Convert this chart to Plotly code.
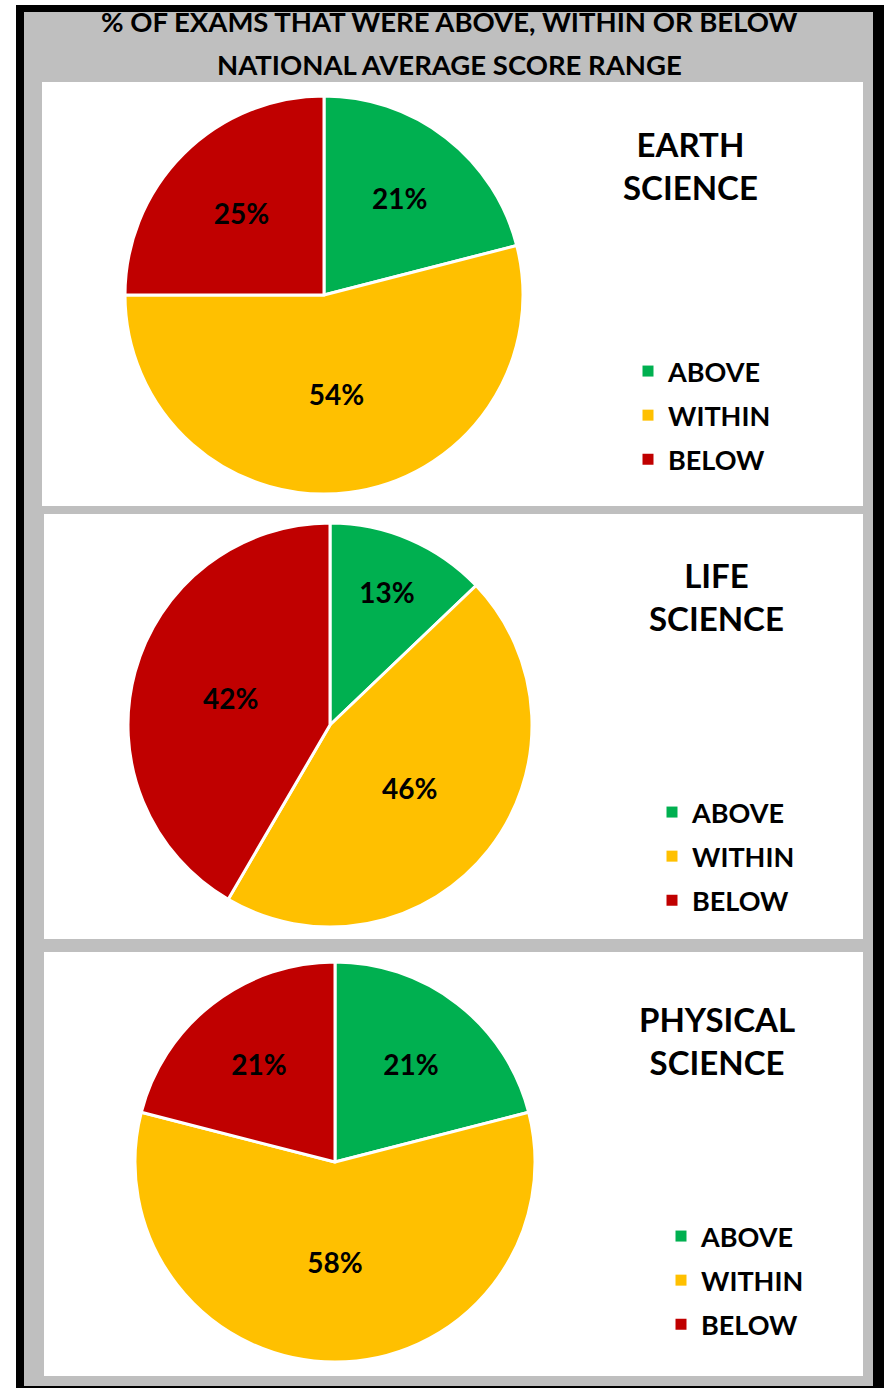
import plotly.graph_objects as go

W, H = 884, 1388

# ---- data ----
categories = ["ABOVE", "WITHIN", "BELOW"]
colors = ["#00B050", "#FFC000", "#C00000"]
subjects = ["EARTH<br>SCIENCE", "LIFE<br>SCIENCE", "PHYSICAL<br>SCIENCE"]
earth_values = [21, 54, 25]
life_values = [13, 46, 42]
physical_values = [21, 58, 21]
title_lines = ["% OF EXAMS THAT WERE ABOVE, WITHIN OR BELOW",
               "NATIONAL AVERAGE SCORE RANGE"]

FONT = "Lato"


def X(px):
    return px / W


def Y(py):
    return 1 - py / H


fig = go.Figure()

# layout of the three panels (pixel geometry)
panels = [
    dict(values=earth_values, box=(42, 863, 82, 506), pie=(324, 295, 199),
         title=(690, 166), legend=(628, 369)),
    dict(values=life_values, box=(44, 863, 514, 939), pie=(330, 725, 202),
         title=(716, 597), legend=(652, 810)),
    dict(values=physical_values, box=(44, 863, 952, 1376), pie=(335, 1162, 200),
         title=(717, 1040), legend=(661, 1234)),
]

shapes = [
    dict(type="rect", xref="paper", yref="paper", x0=X(16), x1=X(890), y0=Y(5), y1=Y(1395),
         fillcolor="black", line=dict(width=0), layer="below"),
    dict(type="rect", xref="paper", yref="paper", x0=X(24), x1=X(873), y0=Y(12), y1=Y(1386),
         fillcolor="#BFBFBF", line=dict(width=0), layer="below"),
]
annotations = []

for i, p in enumerate(panels):
    x0, x1, y0, y1 = p["box"]
    shapes.append(dict(type="rect", xref="paper", yref="paper", x0=X(x0), x1=X(x1),
                       y0=Y(y0), y1=Y(y1), fillcolor="white", line=dict(width=0),
                       layer="below"))
    cx, cy, r = p["pie"]
    fig.add_trace(go.Pie(
        labels=categories, values=p["values"],
        text=[f"{v}%" for v in p["values"]], textinfo="text",
        textposition="inside", insidetextorientation="horizontal",
        textfont=dict(family=FONT, size=28, color="black", weight="bold"),
        marker=dict(colors=colors, line=dict(color="white", width=3)),
        sort=False, direction="clockwise", rotation=0,
        domain=dict(x=[X(cx - r), X(cx + r)], y=[Y(cy + r), Y(cy - r)]),
        showlegend=False, hoverinfo="label+percent",
    ))
    legend_name = "legend" if i == 0 else f"legend{i + 1}"
    for cat, col in zip(categories, colors):
        fig.add_trace(go.Scatter(
            x=[None], y=[None], mode="markers", name=cat,
            marker=dict(symbol="square", size=11, color=col),
            legend=legend_name, legendgroup=f"{i}-{cat}", showlegend=True,
        ))
    lx, ly = p["legend"]
    fig.update_layout({legend_name: dict(
        x=X(lx), y=Y(ly - 22), xanchor="left", yanchor="top",
        bgcolor="rgba(0,0,0,0)", tracegroupgap=6,
        font=dict(family=FONT, size=27, color="black", weight="bold"),
        itemclick=False, itemdoubleclick=False,
    )})
    tx, ty = p["title"]
    annotations.append(dict(
        text=subjects[i], x=X(tx), y=Y(ty), xref="paper", yref="paper",
        xanchor="center", yanchor="middle", showarrow=False, align="center",
        font=dict(family=FONT, size=33, color="black", weight="bold"),
    ))

for line, ypx in zip(title_lines, [22, 64]):
    annotations.append(dict(
        text=line, x=X(449), y=Y(ypx), xref="paper", yref="paper",
        xanchor="center", yanchor="middle", showarrow=False,
        font=dict(family=FONT, size=27.5, color="black", weight="bold"),
    ))

fig.update_layout(
    width=W, height=H, margin=dict(l=0, r=0, t=0, b=0),
    paper_bgcolor="white", plot_bgcolor="rgba(0,0,0,0)",
    xaxis=dict(visible=False), yaxis=dict(visible=False),
    shapes=shapes, annotations=annotations,
)

fig.write_html("out.html", config={"displayModeBar": False},
               post_script="document.body.style.margin='0';")
